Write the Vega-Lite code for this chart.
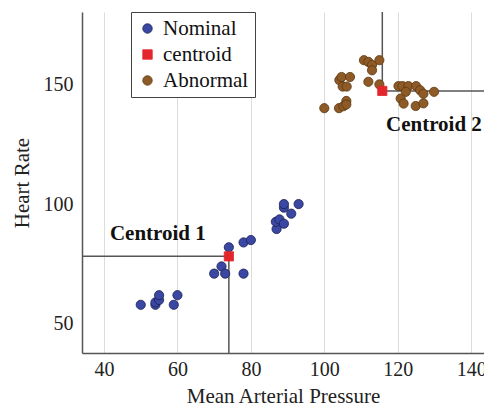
{
  "$schema": "https://vega.github.io/schema/vega-lite/v6.json",
  "autosize": "none",
  "width": 402,
  "height": 341,
  "padding": {"left": 82, "top": 12, "right": 0, "bottom": 54},
  "background": "white",
  "config": {
    "view": {"stroke": null},
    "font": "Liberation Serif",
    "axis": {
      "labelFont": "Liberation Serif",
      "titleFont": "Liberation Serif",
      "labelFontSize": 20,
      "titleFontSize": 21,
      "titleFontWeight": "normal",
      "labelColor": "#222",
      "titleColor": "#222",
      "domainColor": "#555",
      "domainWidth": 1.5,
      "gridColor": "#dcdcdc",
      "gridWidth": 1,
      "ticks": false,
      "labelFlush": false,
      "labelOverlap": false,
      "labelBound": false
    },
    "legend": {
      "labelFont": "Liberation Serif",
      "labelFontSize": 21,
      "labelColor": "#111"
    }
  },
  "datasets": {
    "points": [
      {"map": 50, "hr": 58, "type": "Nominal"},
      {"map": 54, "hr": 58, "type": "Nominal"},
      {"map": 54, "hr": 59, "type": "Nominal"},
      {"map": 55, "hr": 60, "type": "Nominal"},
      {"map": 55, "hr": 62, "type": "Nominal"},
      {"map": 59, "hr": 58, "type": "Nominal"},
      {"map": 60, "hr": 62, "type": "Nominal"},
      {"map": 70, "hr": 71, "type": "Nominal"},
      {"map": 72, "hr": 74, "type": "Nominal"},
      {"map": 73, "hr": 71, "type": "Nominal"},
      {"map": 74, "hr": 82, "type": "Nominal"},
      {"map": 78, "hr": 71, "type": "Nominal"},
      {"map": 78, "hr": 84, "type": "Nominal"},
      {"map": 80, "hr": 85, "type": "Nominal"},
      {"map": 87, "hr": 89.6, "type": "Nominal"},
      {"map": 86.8, "hr": 92.6, "type": "Nominal"},
      {"map": 87.8, "hr": 93.6, "type": "Nominal"},
      {"map": 89, "hr": 91.8, "type": "Nominal"},
      {"map": 91, "hr": 96, "type": "Nominal"},
      {"map": 89, "hr": 98.5, "type": "Nominal"},
      {"map": 89, "hr": 100, "type": "Nominal"},
      {"map": 93, "hr": 100, "type": "Nominal"},
      {"map": 100, "hr": 140, "type": "Abnormal"},
      {"map": 104, "hr": 140, "type": "Abnormal"},
      {"map": 105.2, "hr": 140.8, "type": "Abnormal"},
      {"map": 106, "hr": 143, "type": "Abnormal"},
      {"map": 106, "hr": 141.5, "type": "Abnormal"},
      {"map": 104.1, "hr": 151.7, "type": "Abnormal"},
      {"map": 104.7, "hr": 153, "type": "Abnormal"},
      {"map": 107, "hr": 153, "type": "Abnormal"},
      {"map": 105, "hr": 149, "type": "Abnormal"},
      {"map": 106.1, "hr": 149, "type": "Abnormal"},
      {"map": 110.8, "hr": 160, "type": "Abnormal"},
      {"map": 112, "hr": 159.3, "type": "Abnormal"},
      {"map": 113, "hr": 158, "type": "Abnormal"},
      {"map": 113, "hr": 155.8, "type": "Abnormal"},
      {"map": 115, "hr": 160, "type": "Abnormal"},
      {"map": 112, "hr": 151, "type": "Abnormal"},
      {"map": 115, "hr": 149.9, "type": "Abnormal"},
      {"map": 120.2, "hr": 149.2, "type": "Abnormal"},
      {"map": 121.3, "hr": 149.2, "type": "Abnormal"},
      {"map": 122.9, "hr": 149.2, "type": "Abnormal"},
      {"map": 125, "hr": 149.2, "type": "Abnormal"},
      {"map": 122.2, "hr": 146.8, "type": "Abnormal"},
      {"map": 126.1, "hr": 147.5, "type": "Abnormal"},
      {"map": 127, "hr": 146, "type": "Abnormal"},
      {"map": 129.9, "hr": 146.8, "type": "Abnormal"},
      {"map": 120.8, "hr": 144, "type": "Abnormal"},
      {"map": 121.6, "hr": 141.9, "type": "Abnormal"},
      {"map": 124.9, "hr": 140.9, "type": "Abnormal"},
      {"map": 127, "hr": 142, "type": "Abnormal"},
      {"map": 74, "hr": 78.2, "type": "centroid"},
      {"map": 115.8, "hr": 147.2, "type": "centroid"}
    ],
    "lines": [
      {"x": 34, "x2": 74, "y": 78.2, "y2": 78.2},
      {"x": 74, "x2": 74, "y": 37.9, "y2": 78.2},
      {"x": 115.8, "x2": 115.8, "y": 147.2, "y2": 180.1},
      {"x": 115.8, "x2": 143.5, "y": 147.2, "y2": 147.2}
    ],
    "labels": [
      {"x": 41.6, "y": 87.5, "label": "Centroid 1"},
      {"x": 116.8, "y": 132.9, "label": "Centroid 2"}
    ]
  },
  "layer": [
    {
      "mark": {"type": "rule", "color": "#555", "strokeWidth": 1.5},
      "encoding": {"y": {"datum": 180.1, "type": "quantitative", "scale": {"domain": [37.9, 180.1], "nice": false}}}
    },
    {
      "data": {"name": "lines"},
      "mark": {"type": "rule", "color": "#555", "strokeWidth": 1.5},
      "encoding": {
        "x": {"field": "x", "type": "quantitative"},
        "x2": {"field": "x2"},
        "y": {"field": "y", "type": "quantitative"},
        "y2": {"field": "y2"}
      }
    },
    {
      "data": {"name": "points"},
      "mark": {"type": "point", "filled": true, "strokeWidth": 0.8, "opacity": 1},
      "encoding": {
        "x": {
          "field": "map", "type": "quantitative",
          "scale": {"domain": [34, 143.5], "nice": false, "zero": false},
          "axis": {"values": [40, 60, 80, 100, 120, 140], "title": "Mean Arterial Pressure", "labelPadding": 6, "titlePadding": 6}
        },
        "y": {
          "field": "hr", "type": "quantitative",
          "scale": {"domain": [37.9, 180.1], "nice": false, "zero": false},
          "axis": {"values": [50, 100, 150], "title": "Heart Rate", "labelPadding": 9, "titlePadding": 11}
        },
        "color": {
          "field": "type", "type": "nominal",
          "scale": {"domain": ["Nominal", "centroid", "Abnormal"], "range": ["#3a48a4", "#e3262c", "#8e5a27"]},
          "legend": {
            "title": null, "orient": "none", "legendX": 49, "legendY": 0,
            "strokeColor": "#444", "fillColor": "white", "padding": 6,
            "rowPadding": 4, "symbolSize": 90, "symbolStrokeWidth": 0.8, "labelOffset": 5, "cornerRadius": 0
          }
        },
        "shape": {
          "field": "type", "type": "nominal",
          "scale": {"domain": ["Nominal", "centroid", "Abnormal"], "range": ["circle", "square", "circle"]}
        },
        "stroke": {
          "field": "type", "type": "nominal",
          "scale": {"domain": ["Nominal", "centroid", "Abnormal"], "range": ["#1a2050", "#e3262c", "#5a3810"]},
          "legend": null
        },
        "size": {"value": 85}
      }
    },
    {
      "data": {"name": "labels"},
      "mark": {"type": "text", "font": "Liberation Serif", "fontSize": 21, "fontWeight": "bold", "align": "left", "baseline": "middle", "color": "#111"},
      "encoding": {
        "x": {"field": "x", "type": "quantitative"},
        "y": {"field": "y", "type": "quantitative"},
        "text": {"field": "label"}
      }
    }
  ]
}
